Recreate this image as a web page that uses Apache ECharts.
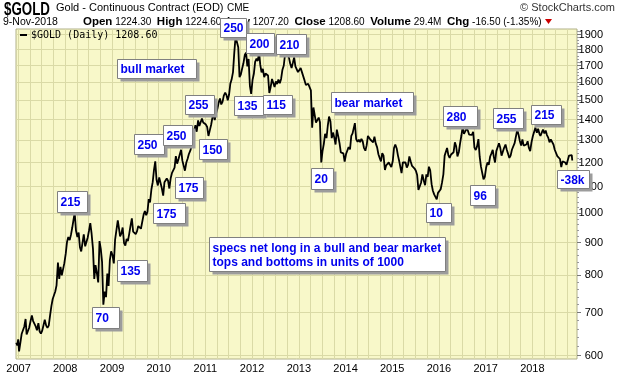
<!DOCTYPE html>
<html>
<head>
<meta charset="utf-8">
<script src="https://cdn.jsdelivr.net/npm/echarts@6.0.0/dist/echarts.min.js"></script>
<style>
    html, body { margin: 0; padding: 0; background: #fff; }
    #chart-gold { width: 620px; height: 376px; }
</style>
</head>
<body>
<div id="chart-gold"></div>
<script>
// gold closes, sampled on the 5th / 15th / 25th of each month
const sampleDays = [5, 15, 25]
const firstYear = 2007
const head2006 = [['2006-12-14', 628], ['2006-12-22', 622], ['2006-12-29', 636]]
const p2007 = [609, 628, 648, 652, 666, 684, 647, 651, 663, 679, 693, 679, 683, 666, 657, 674, 654, 649,
    656, 669, 682, 668, 663, 668, 694, 717, 735, 739, 755, 772, 838, 790, 825, 800, 803, 836]
const p2008 = [865, 902, 918, 908, 926, 950, 975, 1002, 940, 918, 933, 885, 872, 878, 927, 888, 887, 917,
    940, 965, 930, 880, 790, 830, 805, 780, 905, 880, 840, 720, 755, 740, 805, 770, 845, 872]
const p2009 = [860, 835, 910, 915, 975, 945, 920, 930, 950, 898, 890, 912, 905, 928, 955, 982, 936, 940,
    928, 937, 955, 960, 946, 946, 995, 1008, 993, 1005, 1052, 1040, 1090, 1118, 1168, 1205, 1128, 1105]
const p2010 = [1137, 1140, 1095, 1065, 1118, 1110, 1133, 1124, 1093, 1135, 1156, 1160, 1178, 1228, 1195, 1215, 1236, 1256,
    1208, 1206, 1165, 1200, 1216, 1237, 1252, 1272, 1298, 1341, 1372, 1340, 1396, 1368, 1375, 1405, 1385, 1382]
const p2011 = [1375, 1363, 1320, 1348, 1374, 1410, 1428, 1398, 1430, 1455, 1488, 1510, 1478, 1492, 1526, 1542, 1528, 1500,
    1530, 1592, 1616, 1660, 1780, 1885, 1890, 1815, 1630, 1645, 1680, 1712, 1765, 1780, 1695, 1740, 1580, 1535]
const p2012 = [1615, 1650, 1722, 1742, 1728, 1785, 1705, 1658, 1680, 1630, 1652, 1645, 1640, 1540, 1572, 1620, 1628, 1574,
    1605, 1590, 1616, 1595, 1620, 1672, 1700, 1770, 1775, 1792, 1750, 1712, 1685, 1716, 1750, 1695, 1695, 1660]
const p2013 = [1650, 1685, 1660, 1670, 1610, 1585, 1575, 1592, 1602, 1555, 1360, 1462, 1470, 1385, 1392, 1410, 1386, 1200,
    1250, 1282, 1330, 1310, 1368, 1415, 1390, 1310, 1336, 1312, 1280, 1350, 1318, 1286, 1244, 1240, 1240, 1204]
const p2014 = [1237, 1245, 1268, 1258, 1320, 1332, 1340, 1382, 1305, 1292, 1302, 1291, 1306, 1295, 1265, 1252, 1276, 1320,
    1322, 1302, 1305, 1290, 1316, 1285, 1267, 1236, 1220, 1205, 1241, 1230, 1168, 1188, 1196, 1200, 1195, 1180]
const p2015 = [1205, 1264, 1280, 1262, 1230, 1205, 1203, 1155, 1200, 1204, 1200, 1178, 1190, 1226, 1205, 1185, 1180, 1174,
    1165, 1147, 1087, 1090, 1117, 1150, 1124, 1106, 1150, 1140, 1182, 1167, 1110, 1084, 1070, 1064, 1051, 1076]
const p2016 = [1076, 1090, 1115, 1150, 1230, 1224, 1264, 1232, 1220, 1235, 1230, 1245, 1290, 1272, 1226, 1246, 1286, 1322,
    1364, 1330, 1342, 1356, 1345, 1326, 1326, 1325, 1340, 1266, 1255, 1270, 1305, 1225, 1182, 1175, 1130, 1140]
const p2017 = [1180, 1200, 1190, 1226, 1240, 1256, 1226, 1200, 1250, 1256, 1286, 1265, 1230, 1235, 1265, 1280, 1256, 1250,
    1220, 1230, 1256, 1260, 1286, 1292, 1350, 1326, 1296, 1275, 1304, 1275, 1276, 1280, 1295, 1264, 1250, 1290]
const p2018 = [1320, 1340, 1360, 1335, 1355, 1330, 1320, 1316, 1350, 1332, 1346, 1324, 1312, 1290, 1304, 1296, 1280, 1256,
    1250, 1228, 1226, 1215, 1180, 1205, 1200, 1200, 1190, 1190, 1230, 1236, 1232]
const lastClose = ['2018-11-09', 1208.60]
const yearlyCloses = [p2007, p2008, p2009, p2010, p2011, p2012, p2013, p2014, p2015, p2016, p2017, p2018]

const priceTicks = [600, 700, 800, 900, 1000, 1100, 1200, 1300, 1400, 1500, 1600, 1700, 1800, 1900]
const yearLabels = ['2007', '2008', '2009', '2010', '2011', '2012', '2013', '2014', '2015', '2016', '2017', '2018']

const noteLabels = ['250', '200', '210', 'bull market', '255', '135', '115', '250', '250', '150', '175', '175',
    '215', '135', '70', 'bear market', '20', '280', '96', '10', '255', '215', '-38k',
    'specs net long in a bull and bear market\ntops and bottoms in units of 1000']
const notePos = [
    [220, 18, 26, 19], [246, 33, 28, 20], [276, 34, 30, 20], [117, 59, 79, 19], [185, 95, 29, 19],
    [234, 96, 29, 19], [263, 95, 29, 19], [134, 134, 30, 20], [163, 125, 29, 20], [199, 139, 28, 20],
    [175, 177, 28, 21], [153, 203, 32, 20], [57, 191, 30, 21], [117, 260, 30, 21], [92, 307, 27, 21],
    [331, 92, 82, 20], [311, 168, 22, 21], [443, 106, 34, 20], [470, 185, 25, 20], [426, 203, 25, 19],
    [493, 108, 30, 20], [531, 105, 30, 19], [557, 170, 32, 18], [209, 237, 236, 34]
]

const pad = n => (n < 10 ? '0' : '') + n
const parse = s => +echarts.time.parse(s)

function buildSeries() {
    const data = head2006.map(d => [parse(d[0]), Math.log10(d[1])])
    yearlyCloses.forEach((list, yi) => {
        list.forEach((v, i) => {
            const day = `${firstYear + yi}-${pad(Math.floor(i / 3) + 1)}-${pad(sampleDays[i % 3])}`
            data.push([parse(day), Math.log10(v)])
        })
    })
    data.push([parse(lastClose[0]), Math.log10(lastClose[1])])
    return data
}

function quarterStarts() {
    const out = []
    yearLabels.forEach(y => {
        ['01', '04', '07', '10'].forEach(m => out.push(parse(`${y}-${m}-01`)))
    })
    return out
}

function minorPriceTicks() {
    const out = []
    for (let v = 600; v <= 1920; v += 20) {
        if (v % 100) out.push(Math.log10(v))
    }
    return out
}

function noteBox(label, pos) {
    const [x, y, w, h] = pos
    const twoLines = label.indexOf('\n') >= 0
    return {
        type: 'group',
        x: x + 0.5,
        y: y + 0.5,
        z: 100,
        children: [
            { type: 'rect', z: 100, shape: { x: 3, y: 3, width: w, height: h }, style: { fill: '#9c9c9c' } },
            { type: 'rect', z: 101, shape: { x: 0, y: 0, width: w, height: h }, style: { fill: '#fff', stroke: '#808080', lineWidth: 1 } },
            {
                type: 'text',
                z: 102,
                x: 3,
                y: h / 2 + 1,
                style: {
                    text: label,
                    fill: '#0000ee',
                    font: 'bold 12px "Liberation Sans", Arial, sans-serif',
                    lineHeight: twoLines ? 14 : 12,
                    align: 'left',
                    verticalAlign: 'middle',
                    textAlign: 'left',
                    textVerticalAlign: 'middle'
                }
            }
        ]
    }
}

const headerGraphics = [
    {
        type: 'text', x: 4, y: 10, scaleX: 0.74,
        style: { text: '$GOLD', fill: '#000', font: 'bold 18px "Liberation Sans", Arial', verticalAlign: 'middle', textVerticalAlign: 'middle' }
    },
    {
        type: 'text', x: 56, y: 8,
        style: { text: 'Gold - Continuous Contract (EOD)', fill: '#000', font: '11px "Liberation Sans", Arial', verticalAlign: 'middle', textVerticalAlign: 'middle' }
    },
    {
        type: 'text', x: 227, y: 8,
        style: { text: 'CME', fill: '#000', font: '10px "Liberation Sans", Arial', verticalAlign: 'middle', textVerticalAlign: 'middle' }
    },
    {
        type: 'text', x: 615, y: 8,
        style: { text: '© StockCharts.com', fill: '#333', font: '11px "Liberation Sans", Arial', align: 'right', textAlign: 'right', verticalAlign: 'middle', textVerticalAlign: 'middle' }
    },
    {
        type: 'text', x: 3, y: 22,
        style: { text: '9-Nov-2018', fill: '#000', font: '10.5px "Liberation Sans", Arial', verticalAlign: 'middle', textVerticalAlign: 'middle' }
    },
    {
        type: 'text', x: 83, y: 22,
        style: {
            text: '{b|Open} 1224.30  {b|High} 1224.60  {b|Low} 1207.20  {b|Close} 1208.60  {b|Volume} 29.4M  {b|Chg} -16.50 (-1.35%)',
            fill: '#000',
            font: '10px "Liberation Sans", Arial',
            verticalAlign: 'middle',
            textVerticalAlign: 'middle',
            rich: { b: { font: 'bold 11.5px "Liberation Sans", Arial', fill: '#000' } }
        }
    },
    { type: 'polygon', shape: { points: [[545, 19], [552, 19], [548.5, 24]] }, style: { fill: '#cc0000' } },
    // legend inside the plot
    { type: 'rect', shape: { x: 20, y: 34, width: 7, height: 2 }, style: { fill: '#000' }, z: 50 },
    {
        type: 'text', x: 31, y: 35, z: 50,
        style: { text: '$GOLD (Daily) 1208.60', fill: '#000', font: '10px "DejaVu Sans Mono", monospace', verticalAlign: 'middle', textVerticalAlign: 'middle' }
    }
]

const GoldChart = {
    myChart: echarts.init(document.getElementById('chart-gold'), null, { renderer: 'canvas' }),
    option: function () {
        const gridColor = '#dadaa6'
        return {
            animation: false,
            grid: {
                left: 16, right: 43, top: 29, bottom: 17,
                show: true,
                backgroundColor: '#f8f8c9',
                borderColor: '#b0b088',
                borderWidth: 1
            },
            xAxis: {
                type: 'value',
                min: parse('2006-12-12'),
                max: parse('2018-12-16'),
                axisLine: { show: false },
                axisTick: { show: false, customValues: quarterStarts() },
                splitLine: { show: true, lineStyle: { color: gridColor, width: 1 } },
                axisLabel: {
                    customValues: yearLabels.map(y => parse(`${y}-01-01`)),
                    formatter: v => String(new Date(v).getFullYear()),
                    color: '#000',
                    fontSize: 11,
                    fontFamily: '"Liberation Sans", Arial',
                    margin: 4
                }
            },
            yAxis: [
                {
                    type: 'value',
                    position: 'right',
                    min: Math.log10(592.5),
                    max: Math.log10(1938),
                    axisLine: { show: false },
                    axisTick: { show: true, length: 4, customValues: priceTicks.map(Math.log10), lineStyle: { color: '#777' } },
                    splitLine: { show: true, lineStyle: { color: gridColor, width: 1 } },
                    axisLabel: {
                        customValues: priceTicks.map(Math.log10),
                        formatter: v => String(Math.round(Math.pow(10, v))),
                        align: 'right',
                        margin: 26,
                        color: '#000',
                        fontSize: 11,
                        fontFamily: '"Liberation Sans", Arial'
                    }
                },
                {
                    type: 'value',
                    position: 'right',
                    min: Math.log10(592.5),
                    max: Math.log10(1938),
                    axisLine: { show: false },
                    axisTick: { show: true, length: 2, customValues: minorPriceTicks(), lineStyle: { color: '#999' } },
                    splitLine: { show: false },
                    axisLabel: { show: false }
                }
            ],
            graphic: headerGraphics.concat(noteLabels.map((t, i) => noteBox(t, notePos[i]))),
            series: [
                {
                    type: 'line',
                    name: '$GOLD',
                    showSymbol: false,
                    symbol: 'none',
                    data: buildSeries(),
                    lineStyle: { color: '#000', width: 1.8 },
                    z: 10
                }
            ]
        }
    },
    render: function () {
        this.myChart.setOption(this.option())
    }
}

GoldChart.render()
</script>
</body>
</html>
